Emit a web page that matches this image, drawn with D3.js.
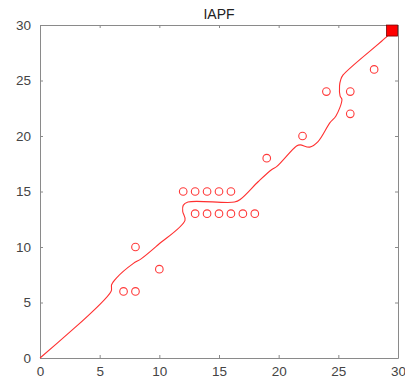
<!DOCTYPE html>
<html>
<head>
<meta charset="utf-8">
<script src="https://cdn.jsdelivr.net/npm/d3@7"></script>
<style>
  html, body { margin: 0; padding: 0; background: #fff; }
  svg { display: block; font-family: "Liberation Sans", Arial, sans-serif; }
</style>
</head>
<body>
<svg id="chart" width="405" height="383"></svg>
<script>
// Axis ticks
const xTicks = [0, 5, 10, 15, 20, 25, 30];
const yTicks = [0, 5, 10, 15, 20, 25, 30];

// Observed points (circles)
const obsX = [7, 8, 8, 10, 12, 13, 14, 15, 16, 13, 14, 15, 16, 17, 18, 19, 22, 24, 26, 26, 28];
const obsY = [6, 6, 10, 8, 15, 15, 15, 15, 15, 13, 13, 13, 13, 13, 13, 18, 20, 24, 24, 22, 26];

// Estimated trajectory
const pathX = [0, 5.95, 6.0, 6.4, 7.8, 8.5, 9.9, 12.15, 11.96, 12.0, 12.4, 16.3, 16.8, 18.3, 19.4, 19.85, 21.5, 21.8, 22.6, 23.3, 24.3, 24.8, 25.3, 25.15, 25.1, 25.2, 25.4, 29.1, 29.5];
const pathY = [0, 6.0, 6.6, 7.2, 8.5, 8.95, 10.2, 12.4, 13.2, 13.75, 14.05, 14.05, 14.3, 15.9, 16.96, 17.26, 19.1, 19.2, 19.0, 19.5, 21.2, 21.8, 23.3, 23.6, 24.5, 25.07, 25.5, 29.0, 29.5];

// Target / end marker
const goalX = [29.5];
const goalY = [29.5];

const svg = d3.select("#chart");
const plotLeft = 40, plotRight = 398, plotTop = 25, plotBottom = 358;

const x = d3.scaleLinear().domain([0, 30]).range([plotLeft, plotRight]);
const y = d3.scaleLinear().domain([0, 30]).range([plotBottom, plotTop]);

const axisColor = "#8a8a8a";
const labelColor = "#444";

function styleAxis(g) {
  g.select(".domain").attr("stroke", axisColor);
  g.selectAll(".tick line").attr("stroke", axisColor);
  g.selectAll(".tick text").attr("fill", labelColor).attr("font-size", 13.5);
}

// Bottom and left axes with inward ticks
svg.append("g").attr("transform", `translate(0,${plotBottom})`)
  .call(d3.axisBottom(x).tickValues(xTicks).tickSizeInner(-3).tickSizeOuter(0).tickPadding(8))
  .call(styleAxis);
svg.append("g").attr("transform", `translate(${plotLeft},0)`)
  .call(d3.axisLeft(y).tickValues(yTicks).tickSizeInner(-3).tickSizeOuter(0).tickPadding(9))
  .call(styleAxis);
// Top and right axes (ticks only)
svg.append("g").attr("transform", `translate(0,${plotTop})`)
  .call(d3.axisTop(x).tickValues(xTicks).tickSizeInner(-3).tickSizeOuter(0).tickFormat(""))
  .call(styleAxis);
svg.append("g").attr("transform", `translate(${plotRight},0)`)
  .call(d3.axisRight(y).tickValues(yTicks).tickSizeInner(-3).tickSizeOuter(0).tickFormat(""))
  .call(styleAxis);

// Title
svg.append("text")
  .attr("x", (plotLeft + plotRight) / 2).attr("y", 19)
  .attr("text-anchor", "middle")
  .attr("font-size", 14)
  .attr("fill", "#222")
  .text("IAPF");

// Trajectory line
const line = d3.line()
  .x(d => x(d[0])).y(d => y(d[1]))
  .curve(d3.curveCatmullRom.alpha(0.5));
svg.append("path")
  .datum(pathX.map((v, i) => [v, pathY[i]]))
  .attr("d", line)
  .attr("fill", "none")
  .attr("stroke", "#ff3030")
  .attr("stroke-width", 1.1);

// Observation circles
svg.append("g").selectAll("circle")
  .data(obsX.map((v, i) => [v, obsY[i]]))
  .join("circle")
  .attr("cx", d => x(d[0])).attr("cy", d => y(d[1]))
  .attr("r", 3.8)
  .attr("fill", "none")
  .attr("stroke", "#ff3a3a")
  .attr("stroke-width", 1.1);

// End marker
svg.append("g").selectAll("rect")
  .data(goalX.map((v, i) => [v, goalY[i]]))
  .join("rect")
  .attr("x", d => x(d[0]) - 5.5).attr("y", d => y(d[1]) - 5.5)
  .attr("width", 11).attr("height", 11)
  .attr("fill", "#ff0000")
  .attr("stroke", "#7a0000")
  .attr("stroke-width", 0.8);
</script>
</body>
</html>
